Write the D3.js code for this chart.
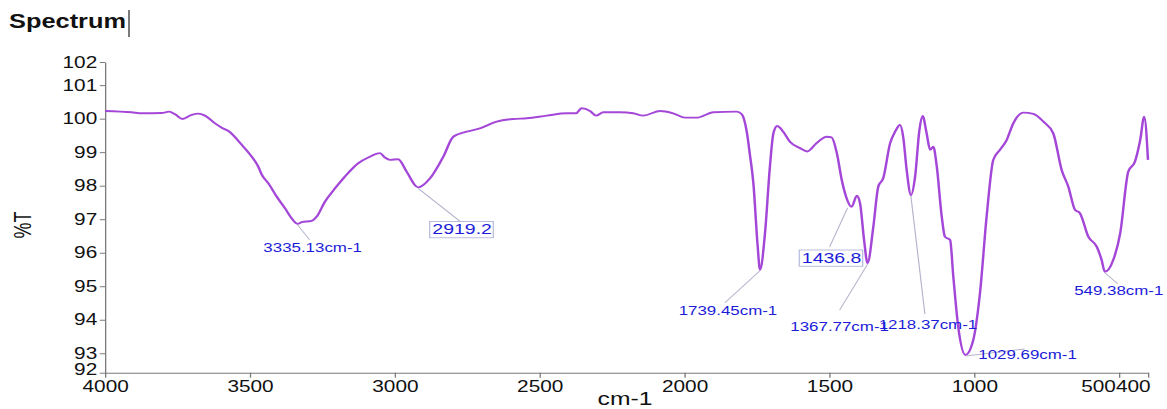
<!DOCTYPE html>
<html>
<head>
<meta charset="utf-8">
<script src="https://cdn.jsdelivr.net/npm/d3@7"></script>
<style>
  body { margin: 0; background: #fff; }
  svg { display: block; }
</style>
</head>
<body>
<div class="chart"></div>
<script>
// trace: wavenumber (cm-1) and %T
const wavenumber = [4000,3908,3873,3804,3779,3758,3733,3701,3678,3655,
  3620,3597,3574,3528,3494,3471,3459,3436,3407,3379,
  3356,3335,3321,3287,3269,3241,3206,3172,3126,3091,
  3051,3034,3016,2988,2959,2919,2878,2832,2798,2752,
  2706,2648,2591,2544,2475,2406,2374,2355,2326,2305,
  2280,2222,2177,2142,2084,2039,1998,1958,1900,1820,
  1802,1785,1774,1762,1748,1739,1722,1705,1693,1680,
  1659,1636,1601,1576,1544,1509,1492,1474,1457,1440,
  1423,1405,1394,1380,1368,1348,1331,1314,1290,1273,
  1256,1245,1233,1218,1204,1189,1178,1164,1152,1141,
  1129,1112,1101,1083,1072,1055,1030,1003,980,957,
  934,911,888,865,830,796,761,727,698,675,
  652,635,606,577,560,549,520,496,468,445,
  427,413,400]
const transmittance = [100.23,100.19,100.16,100.17,100.21,100.13,99.99,100.11,100.15,100.09,
  99.86,99.73,99.63,99.22,98.87,98.57,98.33,98.07,97.67,97.33,
  97.03,96.86,96.91,96.95,97.08,97.52,97.92,98.27,98.67,98.84,
  98.97,98.84,98.77,98.79,98.42,97.95,98.22,98.87,99.46,99.61,
  99.71,99.91,99.99,100.01,100.09,100.16,100.16,100.31,100.23,100.09,
  100.19,100.19,100.16,100.09,100.23,100.16,100.03,100.03,100.19,100.21,
  100.13,99.61,98.92,98.07,96.28,95.49,96.58,98.57,99.56,99.78,
  99.61,99.31,99.12,99.02,99.27,99.46,99.44,98.97,98.17,97.62,
  97.37,97.70,97.48,96.38,95.69,96.78,97.97,98.22,99.27,99.61,
  99.81,99.46,98.47,97.72,98.26,99.66,100.08,99.56,99.07,99.16,
  98.57,97.08,96.48,96.38,95.29,93.79,92.95,93.40,94.79,97.08,
  98.77,99.07,99.36,99.86,100.18,100.14,99.91,99.56,98.47,97.97,
  97.28,97.18,96.48,96.18,95.78,95.43,95.78,96.58,98.42,98.72,
  99.36,100.06,98.77]

const xTicks = [4000, 3500, 3000, 2500, 2000, 1500, 1000, 500, 400]
// the axis ends are labelled 92 and 102 although they sit a bit inside
const yTicks = [92.42, 93, 94, 95, 96, 97, 98, 99, 100, 101, 101.69]

const peakText = ["3335.13cm-1", "2919.2", "1739.45cm-1", "1436.8", "1367.77cm-1", "1218.37cm-1", "1029.69cm-1", "549.38cm-1"]
const peakWave = [3335.13, 2919.2, 1739.45, 1436.8, 1367.77, 1218.37, 1029.69, 549.38]
const peakT = [96.86, 97.95, 95.49, 97.37, 95.69, 97.72, 92.95, 95.43]
const peakBoxed = [false, true, false, true, false, false, false, false]

// where each label sits, relative to its peak (screen px): text centre / baseline, leader end
const labelPos = [
  {tx: 15, ty: 28, lx: 12, ly: 16},
  {tx: 44, ty: 47, lx: 42, ly: 34},
  {tx: -32, ty: 45, lx: -35, ly: 33},
  {tx: -16, ty: 56, lx: -18, ly: 40},
  {tx: -28, ty: 68, lx: -28, ly: 47},
  {tx: 17, ty: 134, lx: 14, ly: 119},
  {tx: 62, ty: 4, lx: 59, ly: -6},
  {tx: 14, ty: 23, lx: 13, ly: 12}
]

const K = 1.3            // the picture is stretched sideways
const W = 1167 / K, H = 409
const font = "'Liberation Sans', Arial, sans-serif"

const svg = d3.select(".chart").append("svg")
  .attr("width", 1167)
  .attr("height", H)
  .attr("viewBox", `0 0 ${W} ${H}`)
  .attr("preserveAspectRatio", "none")

const plot = {left: 105 / K, right: 1148 / K, top: 62, bottom: 372.7}

const x = d3.scaleLinear().domain([4000, 400]).range([plot.left, plot.right])
const y = d3.scaleLinear().domain([yTicks[0], yTicks[yTicks.length - 1]]).range([plot.bottom, plot.top])

// title + the little text cursor after it
svg.append("text")
  .attr("x", 7).attr("y", 28)
  .style("font-family", font).style("font-weight", "bold").style("font-size", "19.5px")
  .attr("fill", "#111")
  .text("Spectrum")
svg.append("line")
  .attr("x1", 129 / K).attr("x2", 129 / K).attr("y1", 10).attr("y2", 37)
  .attr("stroke", "#000").attr("stroke-width", 0.8)

// axes
const yAxis = svg.append("g")
  .attr("transform", `translate(${plot.left},0)`)
  .call(d3.axisLeft(y).tickValues(yTicks).tickFormat(d => Math.round(d)).tickSize(4).tickSizeOuter(0).tickPadding(2))

const xAxis = svg.append("g")
  .attr("transform", `translate(0,${plot.bottom})`)
  .call(d3.axisBottom(x).tickValues(xTicks).tickFormat(d => d).tickSize(5).tickSizeOuter(0).tickPadding(3))

svg.selectAll(".domain, .tick line").attr("stroke", "#7a7a7a")
svg.selectAll(".tick text")
  .style("font-family", font).style("font-size", "16px").attr("fill", "#111")

// the bottom "92" sits right on top of "4000"; lift it a hair
yAxis.selectAll(".tick").filter(d => d == yTicks[0]).select("text").attr("dy", "0.1em")

// 500 and 400 run together at the right end
xAxis.selectAll(".tick").filter(d => d == 400).select("text")
  .attr("text-anchor", "end").attr("x", 1.5)
xAxis.selectAll(".tick").filter(d => d == 500).select("text")
  .attr("text-anchor", "end").attr("x", x(400) - x(500) + 1.5 - 26.7)

// axis titles
svg.append("text")
  .attr("transform", `translate(${23 / K},225) rotate(-90)`)
  .attr("text-anchor", "middle").attr("dy", "0.35em")
  .style("font-family", font).style("font-size", "18px").attr("fill", "#111")
  .text("%T")
svg.append("text")
  .attr("x", 625 / K).attr("y", 405)
  .attr("text-anchor", "middle")
  .style("font-family", font).style("font-size", "19px").attr("fill", "#111")
  .text("cm-1")

// spectrum
const line = d3.line()
  .x(i => x(wavenumber[i]))
  .y(i => y(transmittance[i]))
  .curve(d3.curveMonotoneX)

svg.append("path")
  .datum(d3.range(wavenumber.length))
  .attr("d", line)
  .attr("fill", "none")
  .attr("stroke", "#a447d8")
  .attr("stroke-width", 1.9)
  .attr("stroke-linejoin", "round")

// peak labels
const peaks = svg.append("g").attr("class", "peaks")
  .selectAll("g")
  .data(d3.range(peakText.length))
  .join("g")
  .attr("transform", i => `translate(${x(peakWave[i])},${y(peakT[i])})`)

peaks.append("line")
  .attr("x1", 0).attr("y1", 1)
  .attr("x2", i => labelPos[i].lx / K).attr("y2", i => labelPos[i].ly)
  .attr("stroke", "#b4b4cc").attr("stroke-width", 0.9)

peaks.append("text")
  .attr("x", i => labelPos[i].tx / K).attr("y", i => labelPos[i].ty)
  .attr("text-anchor", "middle")
  .style("font-family", font)
  .style("font-size", i => peakBoxed[i] ? "15px" : "13px")
  .attr("fill", "#1c1cd8")
  .text(i => peakText[i])

peaks.filter(i => peakBoxed[i]).each(function () {
  const g = d3.select(this)
  const b = g.select("text").node().getBBox()
  g.insert("rect", "text")
    .attr("x", b.x - 2).attr("y", b.y + 1)
    .attr("width", b.width + 3).attr("height", b.height - 1)
    .attr("fill", "#fff").attr("stroke", "#a9add6").attr("stroke-width", 0.8)
})
</script>
</body>
</html>
